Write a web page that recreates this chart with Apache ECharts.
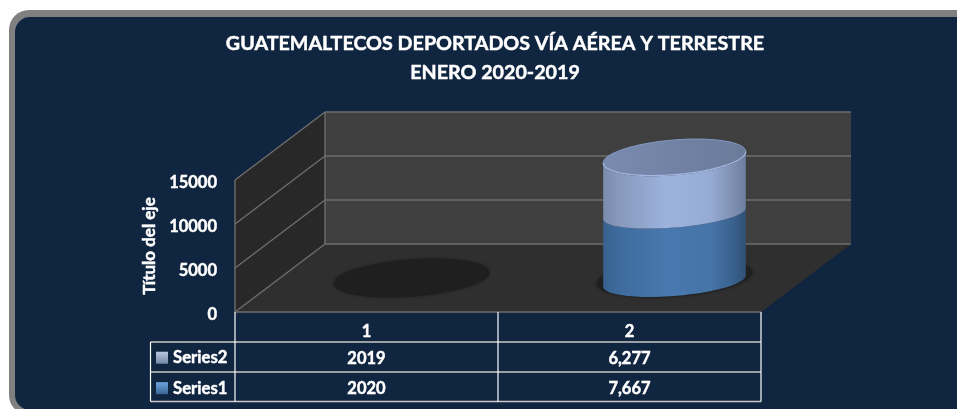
<!DOCTYPE html>
<html><head><meta charset="utf-8">
<style>html,body{margin:0;padding:0;background:#fff}#c{width:957px;height:409px}</style>
<script src="https://cdn.jsdelivr.net/npm/echarts@6/dist/echarts.min.js"></script>
</head><body><div id="c"></div>
<script>
const titleLines = ['GUATEMALTECOS DEPORTADOS VÍA AÉREA Y TERRESTRE', 'ENERO 2020-2019'];
const yAxisTitle = 'Título del eje';
const categories = ['1', '2'];
const series1Name = 'Series1';
const series2Name = 'Series2';
const series1Values = [0, 7667];
const series2Values = [0, 6277];
const series1Table = ['2020', '7,667'];
const series2Table = ['2019', '6,277'];
const yTicks = [0, 5000, 10000, 15000];

const FONT = 'Lato';
const DX = 90, DY = -68;           // 3D depth of the box
const TEXT = '#ffffff';
const HEAVY = {textBorderColor: TEXT, textBorderWidth: 0.45};
const LG = (stops) => new echarts.graphic.LinearGradient(0, 0, 1, 0, stops.map((c, i) => ({offset: c[0], color: c[1]})));
const body1 = () => LG([[0,'#37628f'],[0.12,'#3f6c9e'],[0.45,'#4878ae'],[0.75,'#4674a8'],[0.9,'#3a6390'],[1,'#2f5274']]);
const body2 = () => LG([[0,'#7a8cad'],[0.12,'#8799bd'],[0.45,'#9db3de'],[0.75,'#96abd4'],[0.9,'#7f92b4'],[1,'#6c7f9e']]);

function ellipse(cx, cy, rx, ry, t0, t1) {
  const pts = [], n = 48, skew = -5.6;
  for (let i = 0; i <= n; i++) {
    const t = t0 + (t1 - t0) * i / n;
    pts.push([cx + rx * Math.cos(t), cy + ry * Math.sin(t) + skew * Math.cos(t)]);
  }
  return pts;
}
function baseX(api, i) { return api.coord([i, 0])[0]; }

function renderBox(params, api) {
  const bw = api.size([1, 0])[0];
  const x0 = baseX(api, 0) - bw / 2, x1 = baseX(api, categories.length - 1) + bw / 2;
  const y0 = api.coord([0, 0])[1], yT = api.coord([0, yTicks[yTicks.length - 1]])[1];
  const poly = (points, fill) => ({type: 'polygon', shape: {points}, style: {fill}});
  const line = (a, b, w) => ({type: 'line', shape: {x1: a[0], y1: a[1], x2: b[0], y2: b[1]}, style: {stroke: '#6e6e6e', lineWidth: w || 1.4}});
  const kids = [
    poly([[x0 + DX, y0 + DY], [x1 + DX, y0 + DY], [x1 + DX, yT + DY], [x0 + DX, yT + DY]], '#3f3f3f'),
    poly([[x0, y0], [x0 + DX, y0 + DY], [x0 + DX, yT + DY], [x0, yT]], '#282828'),
    poly([[x0, y0], [x1, y0], [x1 + DX, y0 + DY], [x0 + DX, y0 + DY]], '#2f2f2f')
  ];
  yTicks.forEach(v => {
    const y = api.coord([0, v])[1];
    kids.push(line([x0, y], [x0 + DX, y + DY]));
    kids.push(line([x0 + DX, y + DY], [x1 + DX, y + DY]));
  });
  kids.push(line([x0, y0], [x1, y0]));
  kids.push(line([x0, y0], [x0, yT]));
  kids.push(line([x0 + DX, y0 + DY], [x0 + DX, yT + DY]));
  return {type: 'group', children: kids};
}
function renderShadow(params, api) {
  const c = api.coord([api.value(0), 0]);
  const cx = c[0] + DX / 2, cy = c[1] + DY / 2;
  const rx = 78, ry = 18.6;
  return {type: 'polygon', shape: {points: ellipse(cx, cy, rx, ry, 0, Math.PI * 2)},
    style: {fill: '#1f1f1f', shadowBlur: 3, shadowColor: '#1f1f1f'}};
}
function renderBody(fillFn, ryBottom, ryTop) {
  return function (params, api) {
    const i = api.value(0), lo = api.value(1), hi = api.value(2);
    if (hi <= lo) return null;
    const cBase = api.coord([i, lo]), cTop = api.coord([i, hi]);
    const cx = cBase[0] + DX / 2, off = DY / 2 + 3;
    const rx = 71.3;
    const pts = ellipse(cx, cBase[1] + off, rx, ryBottom, 0, Math.PI)
      .concat(ellipse(cx, cTop[1] + off, rx, ryTop, Math.PI, 0));
    return {type: 'polygon', shape: {points: pts}, style: {fill: fillFn()}};
  };
}
function renderCap(params, api) {
  const i = api.value(0), hi = api.value(1);
  if (hi <= 0) return null;
  const c = api.coord([i, hi]);
  const cx = c[0] + DX / 2, cy = c[1] + DY / 2 + 3;
  return {type: 'group', children: [
    {type: 'polygon', shape: {points: ellipse(cx, cy - 1, 71.3, 17.4, 0, Math.PI * 2)},
      style: {fill: LG([[0,'#7a8bb0'],[0.5,'#7182a4'],[1,'#6a7b9a']]), stroke: '#8299c2', lineWidth: 1}},
    {type: 'polyline', shape: {points: ellipse(cx, cy - 1, 71.3, 17.4, 0, Math.PI)},
      style: {fill: 'none', stroke: '#a2b8e2', lineWidth: 1.2}}
  ]};
}
function renderTable(params, api) {
  const bw = api.size([1, 0])[0];
  const xs = categories.map((c, i) => api.coord([i, 0])[0]);
  const x0 = xs[0] - bw / 2, y0 = api.coord([0, 0])[1];
  const xL = x0 - 84.5;
  const row1 = y0 + 30, row2 = y0 + 60, row3 = y0 + 89.5;
  const x1 = xs[xs.length - 1] + bw / 2;
  const h = (y) => ({type: 'line', shape: {x1: xL, y1: y, x2: x1, y2: y}, style: {stroke: '#c9c9c9', lineWidth: 1.6}});
  const v = (x, a, b) => ({type: 'line', shape: {x1: x, y1: a, x2: x, y2: b}, style: {stroke: '#ffffff', lineWidth: 1.2}});
  const t = (x, y, s) => ({type: 'text', x, y, style: {text: s, fill: TEXT, stroke: TEXT, lineWidth: 0.45, font: 'bold 16.5px ' + FONT, align: 'center', verticalAlign: 'middle'}});
  const kids = [h(row1), h(row2), h(row3), v(xL, row1, row3), v(x0, y0, row3), v(x0 + bw, y0, row3), v(x1, y0, row3)];
  xs.forEach((x, i) => {
    kids.push(t(x, (row1 + row2) / 2 + 2, series2Table[i]));
    kids.push(t(x, (row2 + row3) / 2 + 1.5, series1Table[i]));
  });
  return {type: 'group', children: kids};
}

const chart = echarts.init(document.getElementById('c'), null, {renderer: 'canvas'});
chart.setOption({
  animation: false,
  backgroundColor: '#ffffff',
  graphic: [
    {type: 'rect', z: -2, shape: {x: 9, y: 10, width: 1000, height: 405, r: 20}, style: {fill: '#808080'}},
    {type: 'rect', z: -1, shape: {x: 15, y: 17, width: 1000, height: 393, r: 15}, style: {fill: '#10253f'}}
  ],
  title: {
    text: titleLines.join('\n'), left: 490, top: 24, textAlign: 'center',
    textStyle: {color: TEXT, fontFamily: FONT, fontWeight: 'bold', fontSize: 19.7, lineHeight: 29, ...HEAVY}
  },
  legend: {
    orient: 'vertical', left: 151, top: 344, itemWidth: 12, itemHeight: 12, itemGap: 13,
    icon: 'rect', data: [series2Name, series1Name],
    textStyle: {color: TEXT, fontFamily: FONT, fontWeight: 'bold', fontSize: 16.7, ...HEAVY}
  },
  grid: {left: 235, width: 526, top: 180, height: 132},
  xAxis: {
    type: 'category', data: categories,
    axisLine: {show: false}, axisTick: {show: false},
    axisLabel: {color: TEXT, fontFamily: FONT, fontWeight: 'bold', fontSize: 16.5, margin: 11, ...HEAVY}
  },
  yAxis: {
    type: 'value', min: 0, max: 15000, interval: 5000,
    axisLine: {show: false}, axisTick: {show: false}, splitLine: {show: false},
    axisLabel: {
      margin: 18, formatter: (v) => '{t|' + v + '}',
      rich: {t: {color: TEXT, fontFamily: FONT, fontWeight: 'bold', fontSize: 16.5, padding: [6, 0, 0, 0], ...HEAVY}}
    },
    name: yAxisTitle, nameLocation: 'middle', nameGap: 73, nameRotate: 90,
    nameTextStyle: {color: TEXT, fontFamily: FONT, fontWeight: 'bold', fontSize: 17, ...HEAVY}
  },
  series: [
    {type: 'custom', name: 'box', z: 1, renderItem: renderBox, data: [[0, 0]], encode: {x: 0, y: 1}, silent: true},
    {type: 'custom', name: 'shadow', z: 2, renderItem: renderShadow, data: categories.map((c, i) => [i, 0]), encode: {x: 0, y: 1}, silent: true},
    {type: 'custom', name: series1Name, z: 3, renderItem: renderBody(body1, 15, 14),
      itemStyle: {color: new echarts.graphic.LinearGradient(0, 0, 0, 1, [{offset: 0, color: '#6ea4e0'}, {offset: 1, color: '#3a6592'}])},
      data: series1Values.map((v, i) => [i, 0, v]), encode: {x: 0, y: [1, 2]}},
    {type: 'custom', name: series2Name, z: 4, renderItem: renderBody(body2, 14, 17),
      itemStyle: {color: new echarts.graphic.LinearGradient(0, 0, 0, 1, [{offset: 0, color: '#b9c6e0'}, {offset: 1, color: '#7688a8'}])},
      data: series2Values.map((v, i) => [i, series1Values[i], series1Values[i] + v]), encode: {x: 0, y: [1, 2]}},
    {type: 'custom', name: 'cap', z: 5, renderItem: renderCap,
      data: series2Values.map((v, i) => [i, series1Values[i] + v]), encode: {x: 0, y: 1}, silent: true},
    {type: 'custom', name: 'table', z: 6, renderItem: renderTable, data: [[0, 0]], encode: {x: 0, y: 1}, silent: true}
  ]
});
</script></body></html>
